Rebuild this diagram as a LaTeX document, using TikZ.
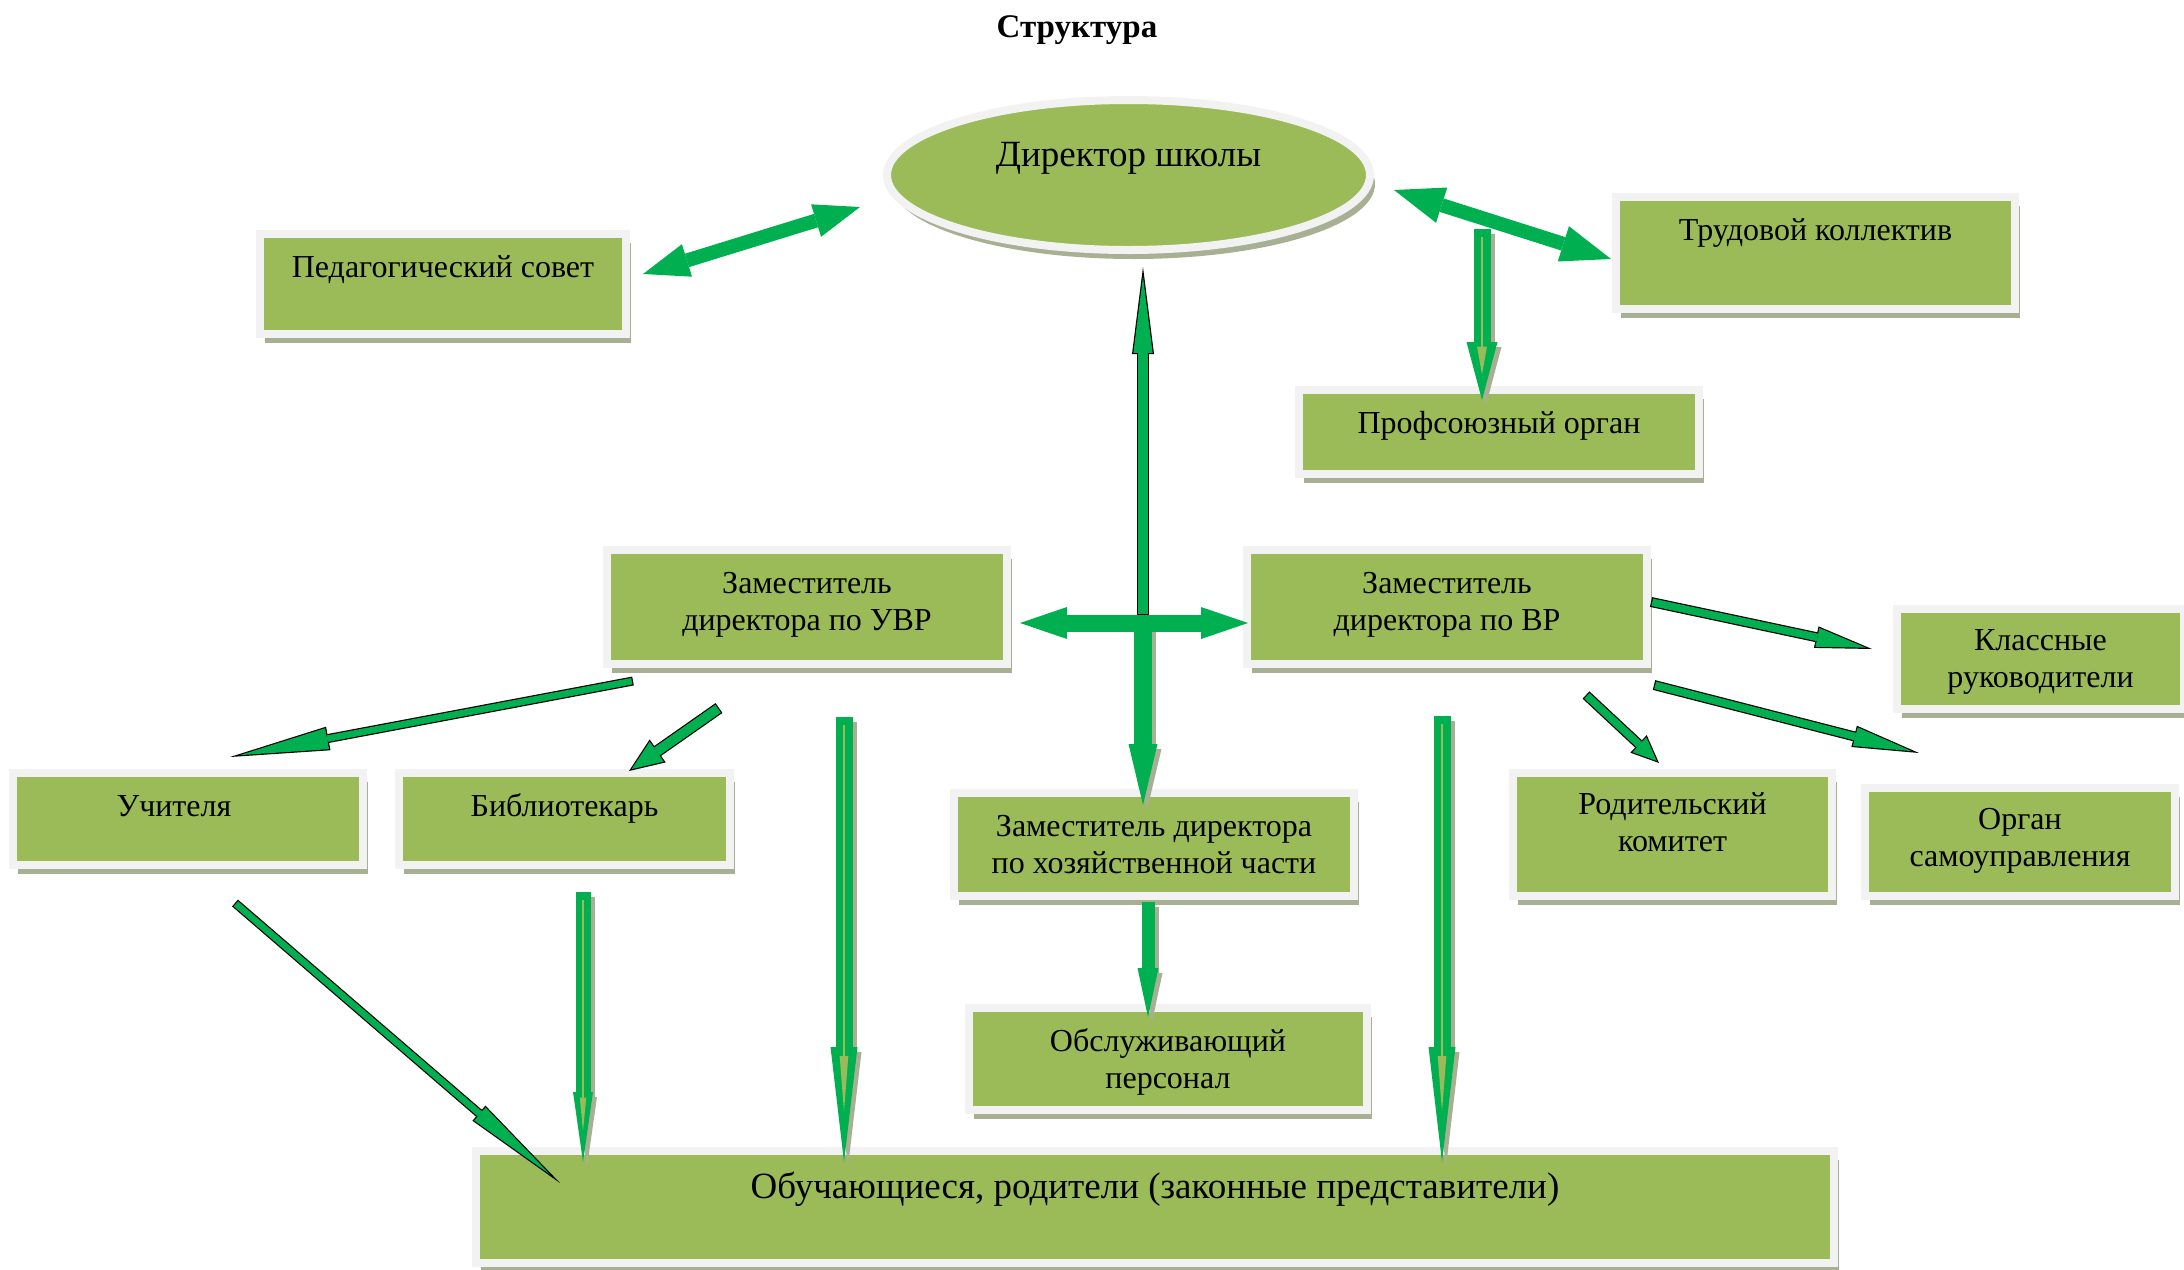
\documentclass[tikz,border=0pt]{standalone}
\usepackage{fontspec}
\setmainfont{Liberation Serif}
\usetikzlibrary{positioning, shapes.geometric, arrows.meta, shadows, calc}
\definecolor{boxgreen}{HTML}{9BBB59}
\definecolor{framegray}{HTML}{F2F2F2}
\definecolor{shadowgray}{HTML}{A8B093}
\definecolor{arrowgreen}{HTML}{00B050}
\newcommand{\boxfont}{\fontsize{32}{37}\selectfont}
\newcommand{\bigfont}{\fontsize{37}{42}\selectfont}
\newcommand{\titlefont}{\fontsize{33}{38}\selectfont\bfseries}
\newcommand{\boxstrut}{\rule{0pt}{28pt}}
\newcommand{\tallstrut}{\rule{0pt}{32pt}}
\tikzset{
  box/.style={rectangle, draw=framegray, line width=8pt, fill=boxgreen, inner sep=0pt, outer sep=0pt,
    drop shadow={shadow xshift=5pt, shadow yshift=-9pt, fill=shadowgray, opacity=1}},
  boxtext/.style={anchor=north, inner sep=0pt, yshift=-15pt, align=center, font=\boxfont},
  bigtext/.style={anchor=north, inner sep=0pt, align=center, font=\bigfont},
  garr/.style n args={3}{draw=arrowgreen, line width=#1, -{Triangle[length=#2, width=#3, line width=0pt]}},
  gdbl/.style n args={3}{draw=arrowgreen, line width=#1,
    {Triangle[length=#2, width=#3, line width=0pt]}-{Triangle[length=#2, width=#3, line width=0pt]}},
  shad/.style={draw=shadowgray, transform canvas={xshift=4pt, yshift=-5pt}}
}
% green arrow with black outline: from, to, shaft, head length, head width
\newcommand{\olarrow}[5]{%
  \pgfmathsetmacro{\olta}{#5/(2*#4)}%
  \pgfmathsetmacro{\olal}{atan(\olta)}%
  \pgfmathsetlengthmacro{\olsh}{1.2/sin(\olal)}%
  \pgfmathsetlengthmacro{\olhl}{#4-1.2-1.2/sin(\olal)}%
  \pgfmathsetlengthmacro{\olhw}{2*((#4-1.2)*\olta-1.2/cos(\olal))}%
  \pgfmathsetlengthmacro{\olsw}{#3-2.4}%
  \draw[black, line width=#3pt, -{Triangle[length=#4pt, width=#5pt, line width=0pt]}] #1 -- #2;
  \draw[arrowgreen, line width=\olsw, shorten <=1.2pt, shorten >=\olsh,
    -{Triangle[length=\olhl, width=\olhw, line width=0pt]}] #1 -- #2;
}
% green arrow with light core and shadow
\newcommand{\linedarrow}[5]{%
  \pgfmathsetlengthmacro{\lahl}{0.48*#4}%
  \pgfmathsetlengthmacro{\lahw}{0.32*#5}%
  \pgfmathsetlengthmacro{\lash}{0.44*#4}%
  \draw[garr={#3pt}{#4pt}{#5pt}, shad] #1 -- #2;
  \draw[garr={#3pt}{#4pt}{#5pt}] #1 -- #2;
  \draw[draw=boxgreen, line width=1.5pt, shorten <=8pt, shorten >=\lash,
    -{Triangle[length=\lahl, width=\lahw, line width=0pt]}] #1 -- #2;
}

\begin{document}
\begin{tikzpicture}[x=1pt, y=-1pt]
  \useasboundingbox (0,0) rectangle (2184,1269);

  \node[font=\titlefont, anchor=base] (title) at (1077,37) {Структура};

  \node[box, ellipse, minimum width=483pt, minimum height=150pt,
    label={[bigtext, yshift=-34pt]north:{\tallstrut Директор школы}}] (dir) at (1128.5,175) {};
  \node[box, minimum width=366pt, minimum height=100pt,
    label={[boxtext]north:{\boxstrut Педагогический совет}}] (ped) at (443,284) {};
  \node[box, minimum width=399pt, minimum height=112pt,
    label={[boxtext]north:{\boxstrut Трудовой коллектив}}] (trud) at (1815.5,253) {};
  \node[box, minimum width=400pt, minimum height=84pt,
    label={[boxtext]north:{\boxstrut Профсоюзный орган}}] (prof) at (1499,432) {};
  \node[box, minimum width=400pt, minimum height=114pt,
    label={[boxtext]north:{\boxstrut Заместитель\\директора по УВР}}] (uvr) at (807,607) {};
  \node[box, minimum width=400pt, minimum height=114pt,
    label={[boxtext]north:{\boxstrut Заместитель\\директора по ВР}}] (vr) at (1447,607) {};
  \node[box, minimum width=287pt, minimum height=100pt,
    label={[boxtext, yshift=2pt]north:{\boxstrut Классные\\руководители}}] (klass) at (2040.5,659) {};
  \node[box, minimum width=350pt, minimum height=92pt,
    label={[boxtext, xshift=-14pt]north:{\boxstrut Учителя}}] (uch) at (188,819) {};
  \node[box, minimum width=331pt, minimum height=92pt,
    label={[boxtext]north:{\boxstrut Библиотекарь}}] (bib) at (564.5,819) {};
  \node[box, minimum width=400pt, minimum height=103pt,
    label={[boxtext]north:{\boxstrut Заместитель директора\\по хозяйственной части}}] (hoz) at (1154,844.5) {};
  \node[box, minimum width=319pt, minimum height=123pt,
    label={[boxtext, yshift=2pt]north:{\boxstrut Родительский\\комитет}}] (rod) at (1672.5,834.5) {};
  \node[box, minimum width=310pt, minimum height=108pt,
    label={[boxtext, yshift=2pt]north:{\boxstrut Орган\\самоуправления}}] (org) at (2020,842) {};
  \node[box, minimum width=398pt, minimum height=102pt,
    label={[boxtext]north:{\boxstrut Обслуживающий\\персонал}}] (obs) at (1168,1059) {};
  \node[box, minimum width=1358pt, minimum height=112pt,
    label={[bigtext, yshift=-15pt]north:{\tallstrut Обучающиеся, родители (законные представители)}}] (obu) at (1155,1207) {};

  \coordinate (hub) at (1143,623);

  \draw[gdbl={14pt}{46pt}{34pt}] ([shift={(17,-10)}]ped.east) -- ([shift={(-27,32)}]dir.west);
  \draw[gdbl={14pt}{50pt}{37pt}] ([shift={(24,15)}]dir.east) -- ([shift={(-5,6)}]trud.west);
  \linedarrow{([shift={(-17,-161)}]prof.north)}{([shift={(-17,10)}]prof.north)}{17}{58}{31}

  \draw[garr={18pt}{61pt}{29pt}, shad] (hub) -- ([shift={(-11,12)}]hoz.north);
  \draw[garr={18pt}{61pt}{29pt}] (hub) -- ([shift={(-11,12)}]hoz.north);
  \draw[gdbl={17pt}{47pt}{32pt}] ([shift={(13,16)}]uvr.east) -- ([shift={(1,16)}]vr.west);
  \olarrow{([shift={(0,-8)}]hub)}{([shift={(14.5,17)}]dir.south)}{12}{87}{22}

  \draw[garr={13pt}{49pt}{21pt}, shad] ([shift={(-6,6)}]hoz.south) -- ([shift={(-20,9)}]obs.north);
  \draw[garr={13pt}{49pt}{21pt}] ([shift={(-6,6)}]hoz.south) -- ([shift={(-20,9)}]obs.north);

  \olarrow{([shift={(26,17)}]uvr.south west)}{([shift={(42,-16)}]uch.north)}{9}{100}{24}
  \olarrow{([shift={(112,44)}]uvr.south west)}{([shift={(64.5,-2)}]bib.north)}{12}{35}{28}
  \olarrow{([shift={(47,38)}]uch.south)}{([shift={(84,32)}]obu.north west)}{9}{107}{20}

  \linedarrow{([shift={(18.5,27)}]bib.south)}{([shift={(107,11)}]obu.north west)}{15}{70}{20}
  \linedarrow{([shift={(37,53)}]uvr.south)}{([shift={(368,11)}]obu.north west)}{17}{115}{27}
  \linedarrow{([shift={(-5,52)}]vr.south)}{([shift={(-392,11)}]obu.north east)}{17}{115}{27}

  \olarrow{([shift={(4,-5)}]vr.east)}{([shift={(-25,-10)}]klass.west)}{10}{57}{22}
  \olarrow{([shift={(7,21)}]vr.south east)}{([shift={(54,-35)}]org.north west)}{10}{67}{22}
  \olarrow{([shift={(139,31)}]vr.south)}{([shift={(-13.5,-10)}]rod.north)}{10}{28}{24}
\end{tikzpicture}
\end{document}
